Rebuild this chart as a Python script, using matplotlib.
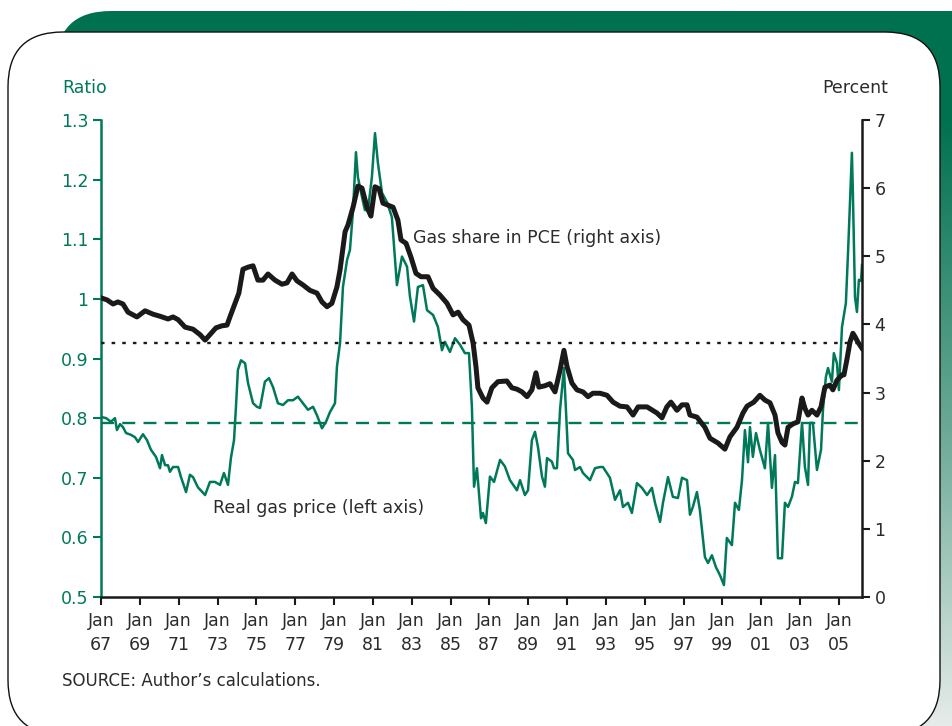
import numpy as np
import matplotlib
matplotlib.use("Agg")
import matplotlib.pyplot as plt
from matplotlib.patches import FancyBboxPatch
from matplotlib.colors import LinearSegmentedColormap

plt.rcParams['font.family'] = ['DejaVu Sans']

# ---------------- data ----------------
price_years = [
    1967.00, 1967.26, 1967.51, 1967.72, 1967.82, 1967.98, 1968.13, 1968.29, 1968.54, 1968.75,
    1968.91, 1969.16, 1969.37, 1969.57, 1969.83, 1970.04, 1970.14, 1970.30, 1970.45, 1970.55,
    1970.71, 1970.97, 1971.12, 1971.38, 1971.58, 1971.74, 1971.99, 1972.36, 1972.61, 1972.87,
    1973.13, 1973.33, 1973.54, 1973.69, 1973.85, 1973.95, 1974.05, 1974.21, 1974.42, 1974.57,
    1974.83, 1975.03, 1975.19, 1975.44, 1975.65, 1975.86, 1976.11, 1976.37, 1976.63, 1976.89,
    1977.14, 1977.40, 1977.66, 1977.92, 1978.12, 1978.38, 1978.59, 1978.79, 1979.05, 1979.15,
    1979.31, 1979.46, 1979.67, 1979.82, 1979.98, 1980.13, 1980.23, 1980.44, 1980.59, 1980.75,
    1980.95, 1981.11, 1981.26, 1981.47, 1981.73, 1981.98, 1982.24, 1982.50, 1982.76, 1982.91,
    1983.12, 1983.32, 1983.58, 1983.79, 1984.10, 1984.35, 1984.56, 1984.71, 1984.97, 1985.23,
    1985.49, 1985.74, 1985.95, 1986.10, 1986.21, 1986.36, 1986.57, 1986.67, 1986.82, 1987.03,
    1987.24, 1987.55, 1987.80, 1988.06, 1988.42, 1988.58, 1988.83, 1988.99, 1989.19, 1989.35,
    1989.50, 1989.71, 1989.86, 1989.97, 1990.22, 1990.33, 1990.48, 1990.64, 1990.84, 1991.05,
    1991.30, 1991.41, 1991.67, 1991.82, 1992.18, 1992.44, 1992.70, 1992.85, 1993.21, 1993.47,
    1993.73, 1993.88, 1994.14, 1994.34, 1994.60, 1994.86, 1995.12, 1995.37, 1995.53, 1995.79,
    1995.94, 1996.20, 1996.45, 1996.71, 1996.92, 1997.18, 1997.33, 1997.48, 1997.69, 1997.84,
    1998.10, 1998.26, 1998.46, 1998.67, 1998.87, 1999.08, 1999.23, 1999.49, 1999.65, 1999.85,
    2000.01, 2000.16, 2000.32, 2000.42, 2000.57, 2000.73, 2000.93, 2001.19, 2001.35, 2001.55,
    2001.71, 2001.86, 2002.07, 2002.22, 2002.38, 2002.58, 2002.74, 2002.89, 2003.10, 2003.25,
    2003.41, 2003.51, 2003.66, 2003.87, 2004.08, 2004.18, 2004.33, 2004.44, 2004.64, 2004.74,
    2004.90, 2005.00, 2005.16, 2005.36, 2005.47, 2005.67, 2005.72, 2005.83, 2005.93, 2006.03,
    2006.14, 2006.19,
]
real_gas_price = [
    0.802, 0.800, 0.794, 0.800, 0.780, 0.790, 0.785, 0.775, 0.772, 0.768,
    0.760, 0.773, 0.763, 0.747, 0.735, 0.716, 0.738, 0.721, 0.721, 0.710,
    0.718, 0.718, 0.701, 0.676, 0.705, 0.701, 0.684, 0.671, 0.693, 0.693,
    0.688, 0.708, 0.688, 0.733, 0.763, 0.819, 0.881, 0.897, 0.892, 0.859,
    0.825, 0.819, 0.817, 0.861, 0.867, 0.852, 0.825, 0.822, 0.830, 0.830,
    0.836, 0.825, 0.814, 0.819, 0.805, 0.783, 0.794, 0.810, 0.825, 0.886,
    0.926, 1.020, 1.065, 1.082, 1.149, 1.246, 1.204, 1.171, 1.149, 1.149,
    1.204, 1.278, 1.228, 1.178, 1.162, 1.137, 1.023, 1.071, 1.054, 1.004,
    0.962, 1.020, 1.023, 0.981, 0.973, 0.953, 0.914, 0.928, 0.911, 0.934,
    0.923, 0.909, 0.909, 0.819, 0.685, 0.716, 0.632, 0.641, 0.624, 0.702,
    0.693, 0.730, 0.719, 0.696, 0.679, 0.696, 0.671, 0.679, 0.763, 0.777,
    0.752, 0.702, 0.685, 0.733, 0.727, 0.716, 0.716, 0.814, 0.884, 0.741,
    0.730, 0.713, 0.718, 0.708, 0.696, 0.716, 0.718, 0.718, 0.700, 0.663,
    0.679, 0.651, 0.658, 0.641, 0.691, 0.683, 0.671, 0.683, 0.658, 0.626,
    0.658, 0.701, 0.668, 0.666, 0.700, 0.696, 0.638, 0.651, 0.676, 0.646,
    0.567, 0.557, 0.570, 0.550, 0.537, 0.520, 0.599, 0.587, 0.658, 0.646,
    0.696, 0.780, 0.726, 0.785, 0.735, 0.775, 0.747, 0.716, 0.792, 0.683,
    0.738, 0.565, 0.565, 0.658, 0.651, 0.668, 0.693, 0.691, 0.792, 0.718,
    0.688, 0.792, 0.792, 0.713, 0.747, 0.814, 0.869, 0.884, 0.861, 0.909,
    0.892, 0.847, 0.953, 0.993, 1.077, 1.245, 1.178, 1.003, 0.978, 1.032,
    1.030, 1.057,
]

share_years = [
    1967.00, 1967.31, 1967.62, 1967.87, 1968.13, 1968.39, 1968.85, 1969.27, 1969.68, 1970.04,
    1970.45, 1970.71, 1970.97, 1971.33, 1971.74, 1972.10, 1972.36, 1972.61, 1972.92, 1973.23,
    1973.49, 1973.64, 1973.90, 1974.10, 1974.31, 1974.57, 1974.83, 1975.08, 1975.34, 1975.60,
    1975.96, 1976.32, 1976.58, 1976.84, 1977.09, 1977.40, 1977.76, 1978.12, 1978.38, 1978.64,
    1978.89, 1979.15, 1979.31, 1979.57, 1979.72, 1979.98, 1980.23, 1980.44, 1980.70, 1980.90,
    1981.11, 1981.32, 1981.52, 1981.78, 1982.04, 1982.29, 1982.45, 1982.71, 1982.96, 1983.22,
    1983.48, 1983.84, 1984.10, 1984.46, 1984.82, 1985.13, 1985.39, 1985.64, 1985.95, 1986.16,
    1986.31, 1986.41, 1986.67, 1986.88, 1987.13, 1987.44, 1987.90, 1988.16, 1988.42, 1988.68,
    1988.94, 1989.19, 1989.40, 1989.55, 1989.86, 1990.12, 1990.38, 1990.64, 1990.84, 1991.00,
    1991.25, 1991.51, 1991.82, 1992.08, 1992.33, 1992.70, 1993.06, 1993.37, 1993.73, 1994.09,
    1994.40, 1994.66, 1995.12, 1995.63, 1995.89, 1996.14, 1996.35, 1996.66, 1996.92, 1997.18,
    1997.33, 1997.69, 1998.10, 1998.36, 1998.77, 1999.13, 1999.39, 1999.75, 2000.06, 2000.27,
    2000.62, 2000.93, 2001.19, 2001.45, 2001.71, 2001.86, 2002.07, 2002.22, 2002.38, 2002.63,
    2002.89, 2003.10, 2003.25, 2003.41, 2003.61, 2003.87, 2004.08, 2004.28, 2004.54, 2004.69,
    2004.90, 2005.16, 2005.26, 2005.41, 2005.57, 2005.72, 2005.83, 2005.98, 2006.19,
]
gas_share_pce = [
    4.39, 4.36, 4.30, 4.33, 4.30, 4.18, 4.11, 4.20, 4.15, 4.12,
    4.08, 4.11, 4.07, 3.96, 3.93, 3.85, 3.77, 3.85, 3.95, 3.98,
    3.99, 4.11, 4.31, 4.46, 4.81, 4.84, 4.86, 4.65, 4.65, 4.74,
    4.65, 4.59, 4.61, 4.74, 4.64, 4.58, 4.50, 4.46, 4.33, 4.26,
    4.31, 4.55, 4.80, 5.36, 5.46, 5.72, 6.03, 6.00, 5.72, 5.59,
    6.02, 5.99, 5.78, 5.75, 5.72, 5.53, 5.24, 5.19, 4.99, 4.75,
    4.70, 4.70, 4.53, 4.43, 4.31, 4.14, 4.18, 4.07, 3.99, 3.73,
    3.38, 3.07, 2.92, 2.86, 3.07, 3.16, 3.17, 3.07, 3.05, 3.01,
    2.94, 3.04, 3.29, 3.08, 3.10, 3.13, 3.01, 3.33, 3.62, 3.38,
    3.14, 3.04, 3.01, 2.94, 2.99, 2.99, 2.96, 2.86, 2.80, 2.79,
    2.67, 2.79, 2.79, 2.70, 2.63, 2.79, 2.86, 2.74, 2.82, 2.82,
    2.67, 2.64, 2.49, 2.33, 2.26, 2.17, 2.35, 2.49, 2.70, 2.80,
    2.86, 2.96, 2.89, 2.85, 2.67, 2.41, 2.27, 2.23, 2.49, 2.54,
    2.57, 2.92, 2.77, 2.67, 2.74, 2.67, 2.79, 3.08, 3.11, 3.04,
    3.18, 3.26, 3.26, 3.48, 3.74, 3.87, 3.82, 3.74, 3.65,
]

avg_price = 0.792      # left axis, green dashed
avg_share = 3.73       # right axis, black dotted

tick_years = list(range(1967, 2006, 2))
tick_labels = [f"Jan\n{y % 100:02d}" for y in tick_years]

left_ticks = [0.5, 0.6, 0.7, 0.8, 0.9, 1.0, 1.1, 1.2, 1.3]
left_labels = ["0.5", "0.6", "0.7", "0.8", "0.9", "1", "1.1", "1.2", "1.3"]
right_ticks = [0, 1, 2, 3, 4, 5, 6, 7]

# ---------------- styling ----------------
GREEN = "#00795a"
HEADER = "#00714f"
TEXT = "#2b2b2b"
FS = 12.5
W, H = 953, 726

fig = plt.figure(figsize=(W / 100, H / 100), dpi=100)

# background decoration axis in pixel coords
bg = fig.add_axes([0, 0, 1, 1], zorder=0)
bg.set_xlim(0, W)
bg.set_ylim(H, 0)
bg.axis("off")

grad_cmap = LinearSegmentedColormap.from_list(
    "g", [(0, HEADER), (0.15, HEADER), (0.6, "#6fab98"), (1.0, "#e6ecea")])
grad = np.linspace(0, 1, 256).reshape(-1, 1)
hdr = FancyBboxPatch((56, 11), W + 60 - 56, H + 60, boxstyle="round,pad=0,rounding_size=55",
                     facecolor="none", edgecolor="none")
bg.add_patch(hdr)
im = bg.imshow(grad, cmap=grad_cmap, aspect="auto", extent=(0, W, H, 11), zorder=1)
im.set_clip_path(hdr)

panel = FancyBboxPatch((8, 32), 932, 735 - 32, boxstyle="round,pad=0,rounding_size=55",
                       facecolor="white", edgecolor="#111111", linewidth=1.0, zorder=2)
bg.add_patch(panel)

# main axes
L, R, B, T = 101, 862, 597, 120
ax = fig.add_axes([L / W, 1 - B / H, (R - L) / W, (B - T) / H], zorder=3)
ax.patch.set_alpha(0)
ax2 = ax.twinx()

ax.plot(price_years, real_gas_price, color=GREEN, lw=1.8, zorder=3)
ax.axhline(avg_price, color=GREEN, lw=1.7, dashes=(5.5, 3.5), zorder=2)
ax2.plot(share_years, gas_share_pce, color="#1a1a1a", lw=3.6, solid_joinstyle="round", zorder=3)
ax2.axhline(avg_share, color="#1a1a1a", lw=1.7, dashes=(1.5, 3.0), zorder=2)

ax.set_xlim(1967.0, 2006.19)
ax.set_ylim(0.5, 1.3)
ax2.set_ylim(0, 7)

ax.set_xticks(tick_years)
ax.set_xticklabels(tick_labels, color=TEXT, fontsize=FS, linespacing=1.4)
ax.set_yticks(left_ticks)
ax.set_yticklabels(left_labels, color=GREEN, fontsize=FS)
ax2.set_yticks(right_ticks)
ax2.set_yticklabels([str(v) for v in right_ticks], color=TEXT, fontsize=FS)

for a in (ax, ax2):
    a.spines["top"].set_visible(False)
ax.spines["left"].set_color(GREEN)
ax.spines["left"].set_linewidth(1.8)
ax.spines["bottom"].set_color("#1a1a1a")
ax.spines["bottom"].set_linewidth(1.8)
ax.spines["right"].set_visible(False)
ax2.spines["left"].set_visible(False)
ax2.spines["bottom"].set_visible(False)
ax2.spines["right"].set_color("#1a1a1a")
ax2.spines["right"].set_linewidth(1.8)

ax.tick_params(axis="y", direction="out", length=6, width=1.5, color=GREEN, pad=3)
ax.tick_params(axis="x", direction="out", length=6, width=1.5, color="#1a1a1a", pad=5)
ax2.tick_params(axis="y", direction="out", length=6, width=1.5, color="#1a1a1a", pad=3)

# text
fig.text(62 / W, 1 - 88 / H, "Ratio", color=GREEN, fontsize=FS, ha="left", va="center")
fig.text(888 / W, 1 - 88 / H, "Percent", color=TEXT, fontsize=FS, ha="right", va="center")
fig.text(413 / W, 1 - 238 / H, "Gas share in PCE (right axis)", color=TEXT, fontsize=FS,
         ha="left", va="center", zorder=10)
fig.text(213 / W, 1 - 508 / H, "Real gas price (left axis)", color=TEXT, fontsize=FS,
         ha="left", va="center", zorder=10)
fig.text(62 / W, 1 - 681 / H, "SOURCE: Author\u2019s calculations.", color=TEXT, fontsize=12,
         ha="left", va="center")

fig.savefig("out.png", dpi=100)
